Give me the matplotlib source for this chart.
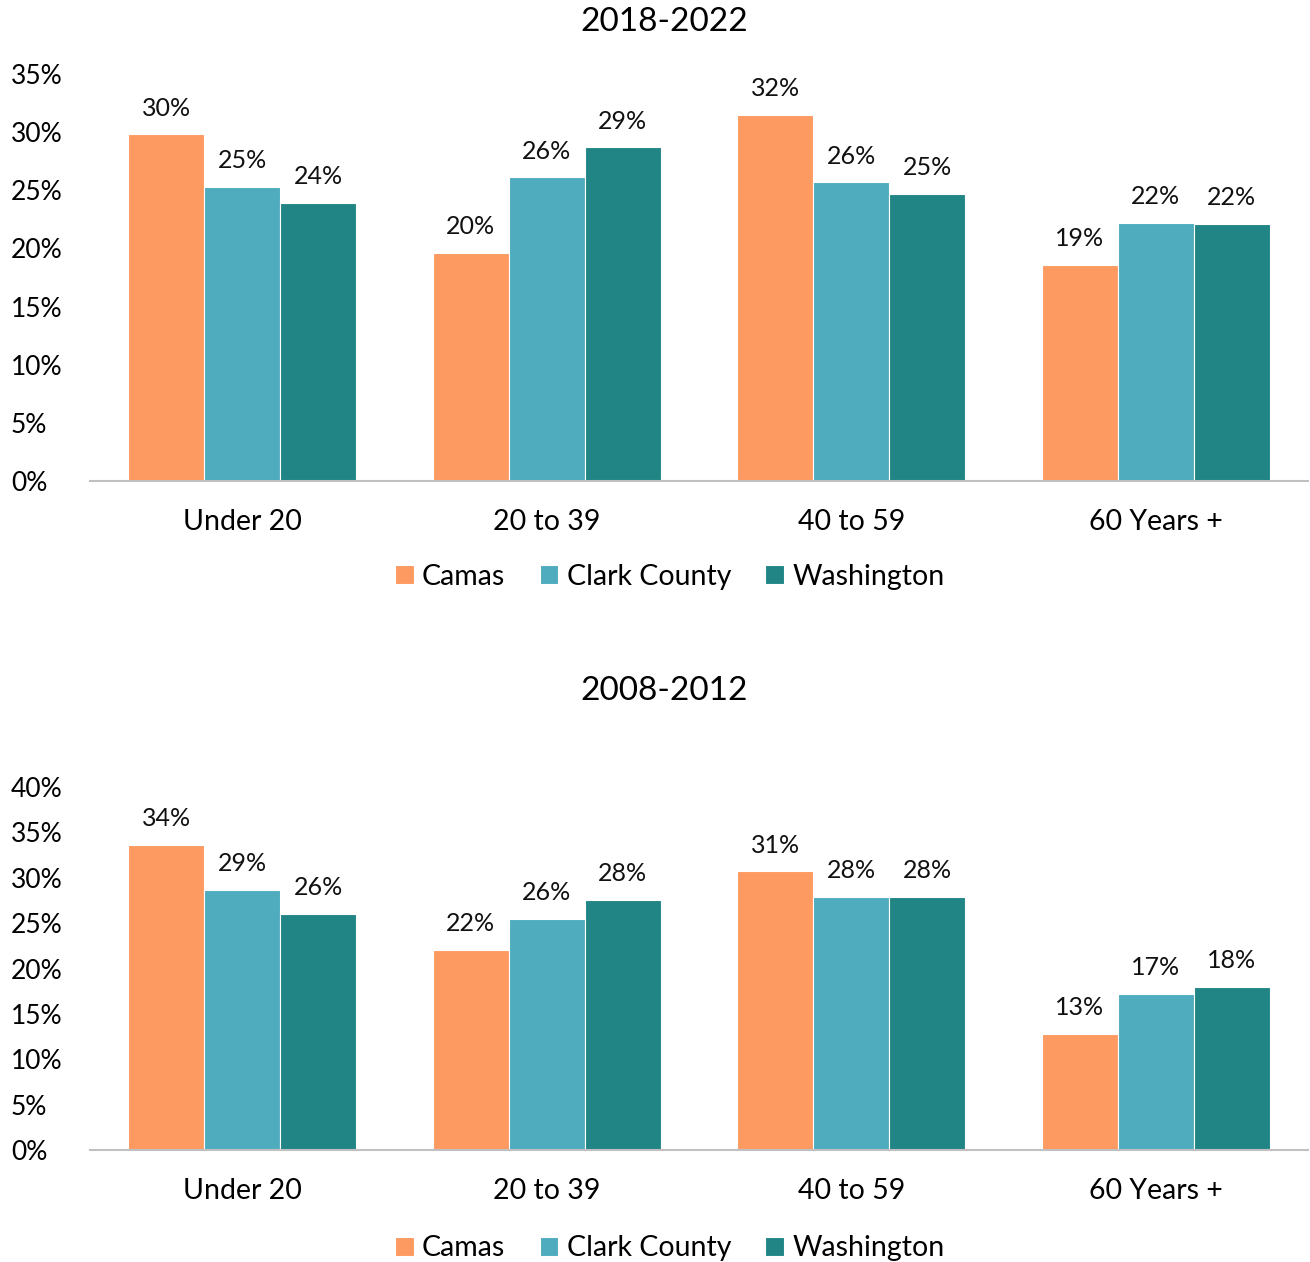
import matplotlib
matplotlib.use("Agg")
import matplotlib.pyplot as plt
import numpy as np
from matplotlib.ticker import FuncFormatter, MultipleLocator

plt.rcParams['font.family'] = ['Lato', 'DejaVu Sans']

categories = ["Under 20", "20 to 39", "40 to 59", "60 Years +"]
series = ["Camas", "Clark County", "Washington"]
colors = ["#FD9A61", "#4FABBE", "#218585"]

title_top = "2018-2022"
vals_2022 = {
    "Camas": [29.8, 19.6, 31.5, 18.6],
    "Clark County": [25.3, 26.1, 25.7, 22.2],
    "Washington": [23.9, 28.7, 24.7, 22.1],
}
title_bot = "2008-2012"
vals_2012 = {
    "Camas": [33.6, 22.1, 30.7, 12.8],
    "Clark County": [28.7, 25.5, 27.9, 17.2],
    "Washington": [26.0, 27.6, 27.9, 18.0],
}

fig = plt.figure(figsize=(13.10, 12.62), dpi=100)
ax1 = fig.add_axes([0.0687, 0.6189, 0.9298, 0.3225])
ax2 = fig.add_axes([0.0687, 0.0887, 0.9298, 0.2876])

def draw(ax, vals, ymax, title, title_y, leg_y, off):
    x = np.arange(len(categories))
    w = 0.25
    for i, s in enumerate(series):
        pos = x + (i - 1) * w
        bars = ax.bar(pos, vals[s], w, color=colors[i], edgecolor="white",
                      linewidth=0.8, label=s, zorder=2)
        for b, v in zip(bars, vals[s]):
            ax.text(b.get_x() + b.get_width() / 2, v + off,
                    f"{round(v):.0f}%", ha="center", va="bottom",
                    fontsize=18, color="#111111")
    ax.set_xlim(-0.5, len(categories) - 0.5)
    ax.set_ylim(0, ymax)
    ax.yaxis.set_major_locator(MultipleLocator(5))
    ax.yaxis.set_major_formatter(FuncFormatter(lambda v, p: f"{v:.0f}%"))
    ax.set_xticks(x)
    ax.set_xticklabels(categories)
    ax.tick_params(axis="x", length=0, labelsize=20.5, pad=20)
    ax.tick_params(axis="y", length=0, labelsize=19, pad=57)
    for lab in ax.get_yticklabels():
        lab.set_horizontalalignment("left")
    for sp in ["top", "right", "left"]:
        ax.spines[sp].set_visible(False)
    ax.spines["bottom"].set_color("#C0C0C0")
    ax.spines["bottom"].set_linewidth(1.5)
    fig.text(0.507, title_y, title, ha="center", va="center", fontsize=24)
    ax.legend(loc="center", bbox_to_anchor=(0.476, leg_y), ncol=3, frameon=False,
              fontsize=20.5, handlelength=0.65, handleheight=0.65, handletextpad=0.3,
              columnspacing=1.2, borderaxespad=0)

draw(ax1, vals_2022, 35, title_top, 1 - 22 / 1262, -0.235, 1.25)
draw(ax2, vals_2012, 40, title_bot, 1 - 691 / 1262, -0.27, 1.65)

fig.savefig("out.png", dpi=100, facecolor="white")
